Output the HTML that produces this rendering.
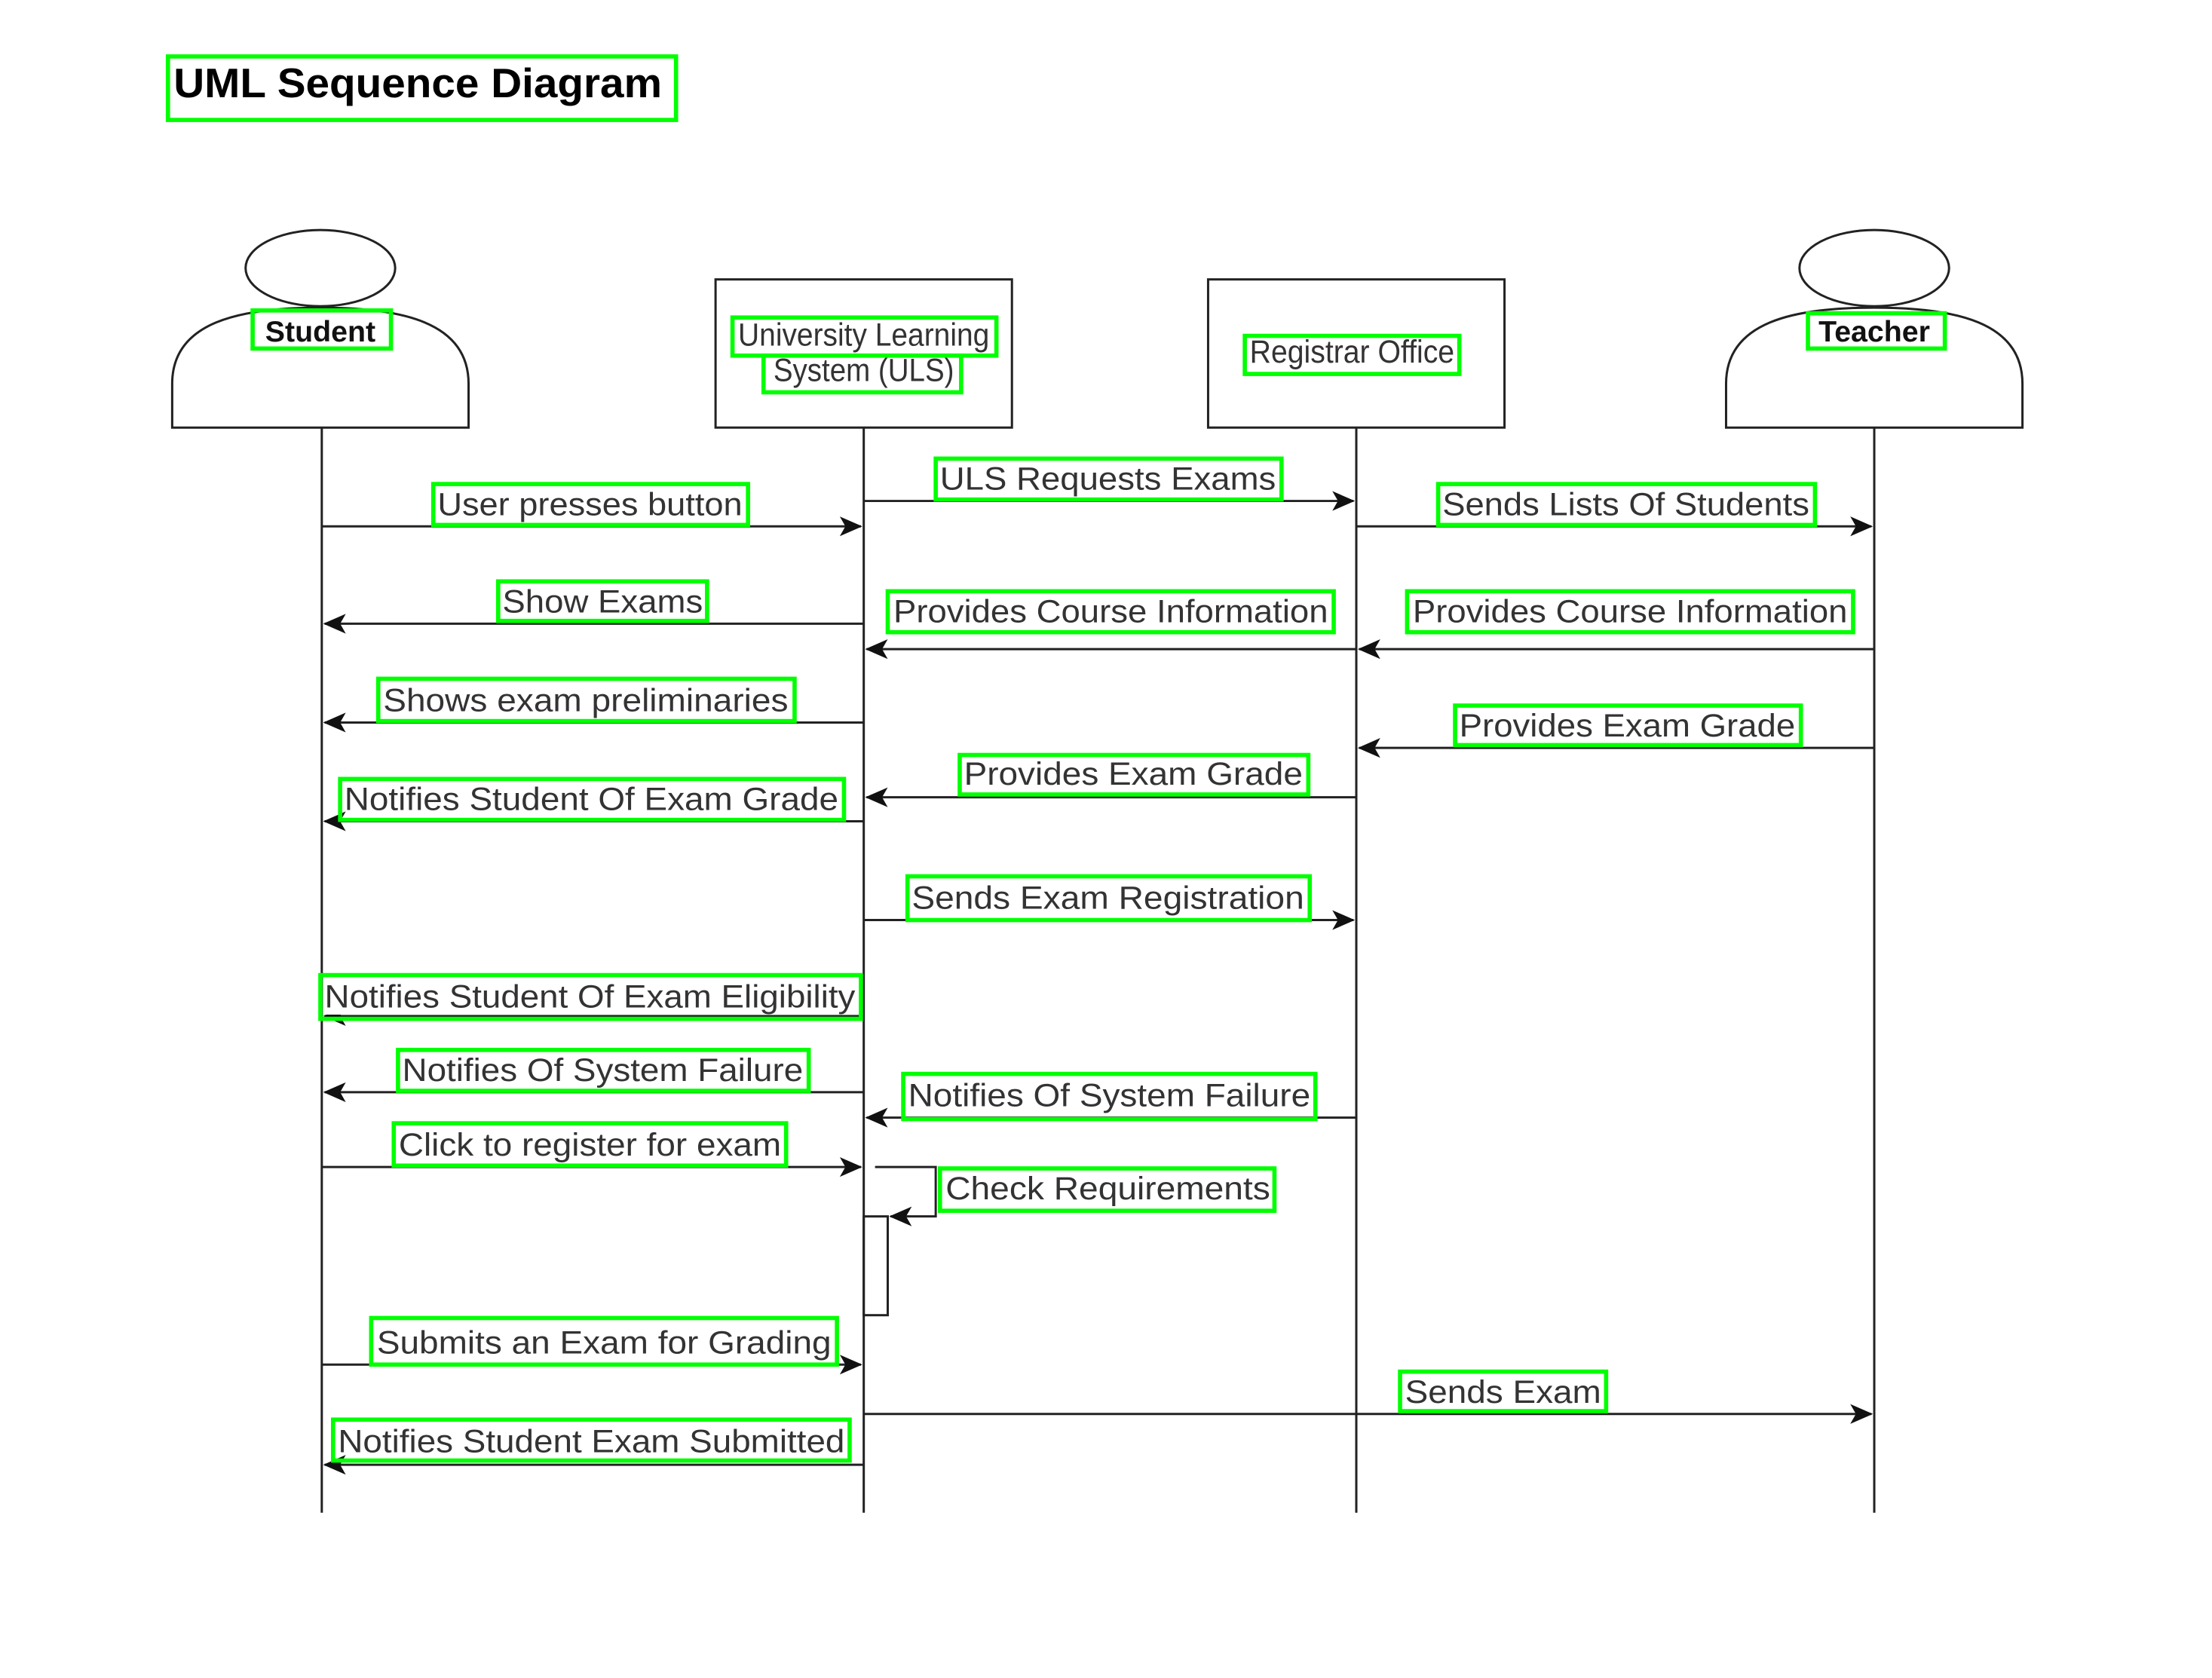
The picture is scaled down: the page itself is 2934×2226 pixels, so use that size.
<!DOCTYPE html>
<html><head><meta charset="utf-8"><style>
html,body{margin:0;padding:0;background:#fff;}
svg{display:block;}
text{font-family:"Liberation Sans",Arial,sans-serif;}
.l{font-size:23px;fill:#333;}
.g{fill:none;stroke:#00ff00;stroke-width:3;}
.ln{stroke:#222;stroke-width:1.6;fill:none;}
</style></head><body>
<svg width="2934" height="2226" viewBox="0 0 1567.3 1189.1" xmlns="http://www.w3.org/2000/svg">
<defs>
<marker id="a" markerWidth="16" markerHeight="14" refX="15" refY="7" orient="auto" markerUnits="userSpaceOnUse">
<path d="M0,0 L16,7 L0,14 L4,7 Z" fill="#111"/>
</marker>
</defs>
<rect width="1567.3" height="1189.1" fill="#fff"/>
<text x="123" y="69" font-size="29" font-weight="bold" fill="#000" textLength="346" lengthAdjust="spacingAndGlyphs">UML Sequence Diagram</text>
<rect class="g" x="119" y="40" width="360" height="45"/>

<line class="ln" x1="228" y1="303" x2="228" y2="1072"/>
<line class="ln" x1="612" y1="303" x2="612" y2="1072"/>
<line class="ln" x1="961" y1="303" x2="961" y2="1072"/>
<line class="ln" x1="1328" y1="303" x2="1328" y2="1072"/>

<ellipse class="ln" cx="227" cy="190" rx="53" ry="27"/>
<path class="ln" d="M122,303 L122,272 C122,228 170,218 227,218 C284,218 332,228 332,272 L332,303 Z" fill="#fff"/>
<text x="227" y="242" font-size="21" font-weight="bold" text-anchor="middle" fill="#111">Student</text>
<rect class="g" x="179" y="220" width="98" height="27"/>

<ellipse class="ln" cx="1328" cy="190" rx="53" ry="27"/>
<path class="ln" d="M1223,303 L1223,272 C1223,228 1271,218 1328,218 C1385,218 1433,228 1433,272 L1433,303 Z" fill="#fff"/>
<text x="1328" y="242" font-size="21" font-weight="bold" text-anchor="middle" fill="#111">Teacher</text>
<rect class="g" x="1281" y="222" width="97" height="25"/>

<rect class="ln" x="507" y="198" width="210" height="105" fill="#fff"/>
<text class="l" x="612" y="245" font-size="19" text-anchor="middle" textLength="178" lengthAdjust="spacingAndGlyphs">University Learning</text>
<text class="l" x="612" y="270" font-size="19" text-anchor="middle" textLength="128" lengthAdjust="spacingAndGlyphs">System (ULS)</text>
<rect class="g" x="519" y="225" width="187" height="27"/>
<rect class="g" x="541" y="252" width="140" height="26"/>

<rect class="ln" x="856" y="198" width="210" height="105" fill="#fff"/>
<text class="l" x="958" y="257" font-size="19" text-anchor="middle" textLength="145" lengthAdjust="spacingAndGlyphs">Registrar Office</text>
<rect class="g" x="882" y="238" width="152" height="27"/>

<g class="ln" marker-end="url(#a)">
<line x1="228" y1="373" x2="610" y2="373"/>
<line x1="612" y1="355" x2="959" y2="355"/>
<line x1="961" y1="373" x2="1326" y2="373"/>
<line x1="612" y1="442" x2="230" y2="442"/>
<line x1="961" y1="460" x2="614" y2="460"/>
<line x1="1328" y1="460" x2="963" y2="460"/>
<line x1="612" y1="512" x2="230" y2="512"/>
<line x1="1328" y1="530" x2="963" y2="530"/>
<line x1="961" y1="565" x2="614" y2="565"/>
<line x1="612" y1="582" x2="230" y2="582"/>
<line x1="612" y1="652" x2="959" y2="652"/>
<line x1="612" y1="720" x2="230" y2="720"/>
<line x1="612" y1="774" x2="230" y2="774"/>
<line x1="961" y1="792" x2="614" y2="792"/>
<line x1="228" y1="827" x2="610" y2="827"/>
<polyline points="620,827 663,827 663,862 631,862"/>
<line x1="228" y1="967" x2="610" y2="967"/>
<line x1="612" y1="1002" x2="1326" y2="1002"/>
<line x1="612" y1="1038" x2="230" y2="1038"/>
</g>
<rect class="ln" x="612" y="862" width="17" height="70" fill="#fff"/>

<g class="l" text-anchor="middle">
<rect x="310" y="345" width="218" height="25" fill="#fff"/>
<text x="418" y="365" textLength="216" lengthAdjust="spacingAndGlyphs">User presses button</text>
<text x="785" y="347" textLength="238" lengthAdjust="spacingAndGlyphs">ULS Requests Exams</text>
<text x="1152" y="365" textLength="260" lengthAdjust="spacingAndGlyphs">Sends Lists Of Students</text>
<text x="427" y="434" textLength="142" lengthAdjust="spacingAndGlyphs">Show Exams</text>
<text x="787" y="441" textLength="308" lengthAdjust="spacingAndGlyphs">Provides Course Information</text>
<text x="1155" y="441" textLength="308" lengthAdjust="spacingAndGlyphs">Provides Course Information</text>
<text x="415" y="504" textLength="287" lengthAdjust="spacingAndGlyphs">Shows exam preliminaries</text>
<text x="1153" y="522" textLength="238" lengthAdjust="spacingAndGlyphs">Provides Exam Grade</text>
<text x="803" y="556" textLength="240" lengthAdjust="spacingAndGlyphs">Provides Exam Grade</text>
<text x="419" y="574" textLength="350" lengthAdjust="spacingAndGlyphs">Notifies Student Of Exam Grade</text>
<text x="785" y="644" textLength="278" lengthAdjust="spacingAndGlyphs">Sends Exam Registration</text>
<rect x="229" y="693" width="380" height="26" fill="#fff"/>
<text x="418" y="714" textLength="376" lengthAdjust="spacingAndGlyphs">Notifies Student Of Exam Eligibility</text>
<text x="427" y="766" textLength="284" lengthAdjust="spacingAndGlyphs">Notifies Of System Failure</text>
<text x="786" y="784" textLength="285" lengthAdjust="spacingAndGlyphs">Notifies Of System Failure</text>
<text x="418" y="819" textLength="271" lengthAdjust="spacingAndGlyphs">Click to register for exam</text>
<text x="785" y="850" textLength="230" lengthAdjust="spacingAndGlyphs">Check Requirements</text>
<text x="428" y="959" textLength="322" lengthAdjust="spacingAndGlyphs">Submits an Exam for Grading</text>
<text x="1065" y="994" textLength="139" lengthAdjust="spacingAndGlyphs">Sends Exam</text>
<text x="419" y="1029" textLength="359" lengthAdjust="spacingAndGlyphs">Notifies Student Exam Submitted</text>
</g>

<g class="g">
<rect x="307" y="343" width="223" height="29"/>
<rect x="663" y="325" width="245" height="29"/>
<rect x="1019" y="343" width="267" height="29"/>
<rect x="353" y="412" width="148" height="28"/>
<rect x="629" y="419" width="316" height="29"/>
<rect x="997" y="419" width="316" height="29"/>
<rect x="268" y="481" width="295" height="30"/>
<rect x="1031" y="500" width="245" height="28"/>
<rect x="680" y="535" width="247" height="28"/>
<rect x="241" y="552" width="357" height="29"/>
<rect x="643" y="621" width="285" height="31"/>
<rect x="227" y="691" width="383" height="31"/>
<rect x="282" y="744" width="291" height="29"/>
<rect x="640" y="761" width="292" height="32"/>
<rect x="279" y="796" width="278" height="30"/>
<rect x="666" y="828" width="237" height="30"/>
<rect x="263" y="934" width="330" height="33"/>
<rect x="992" y="972" width="146" height="28"/>
<rect x="236" y="1006" width="366" height="29"/>
</g>
</svg>
</body></html>
